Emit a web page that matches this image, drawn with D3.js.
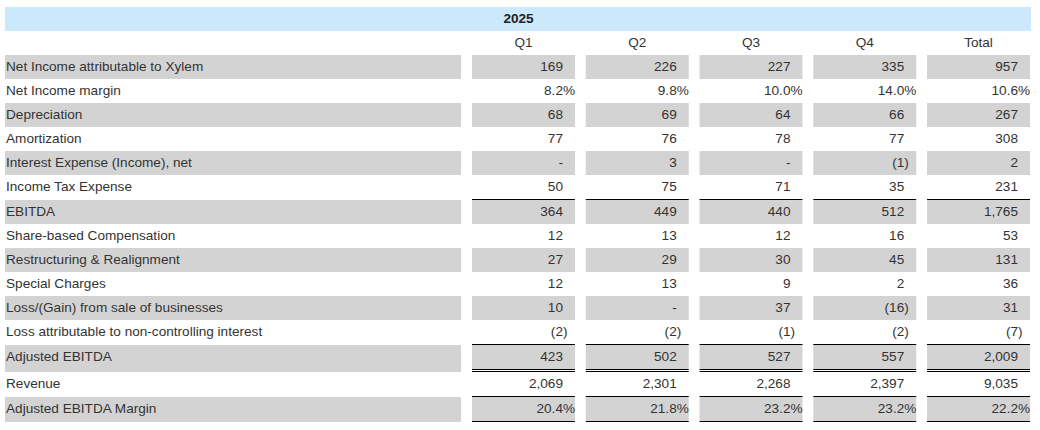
<!DOCTYPE html>
<html>
<head>
<meta charset="utf-8">
<script src="https://cdn.jsdelivr.net/npm/d3@7"></script>
<style>
  body { margin: 0; background: #fff; }
  text { font-family: Arial, "Liberation Sans", sans-serif; font-size: 13.6px; fill: #333; }
</style>
</head>
<body>
<div id="chart"></div>
<script>
// Table data
const year = "2025";
const columns = ["Q1", "Q2", "Q3", "Q4", "Total"];
const rowLabels = [
  "Net Income attributable to Xylem",
  "Net Income margin",
  "Depreciation",
  "Amortization",
  "Interest Expense (Income), net",
  "Income Tax Expense",
  "EBITDA",
  "Share-based Compensation",
  "Restructuring & Realignment",
  "Special Charges",
  "Loss/(Gain) from sale of businesses",
  "Loss attributable to non-controlling interest",
  "Adjusted EBITDA",
  "Revenue",
  "Adjusted EBITDA Margin"
];
const percentRows = ["Net Income margin", "Adjusted EBITDA Margin"];
const q1 = [169, 8.2, 68, 77, null, 50, 364, 12, 27, 12, 10, -2, 423, 2069, 20.4];
const q2 = [226, 9.8, 69, 76, 3, 75, 449, 13, 29, 13, null, -2, 502, 2301, 21.8];
const q3 = [227, 10.0, 64, 78, null, 71, 440, 12, 30, 9, 37, -1, 527, 2268, 23.2];
const q4 = [335, 14.0, 66, 77, -1, 35, 512, 16, 45, 2, -16, -2, 557, 2397, 23.2];
const total = [957, 10.6, 267, 308, 2, 231, 1765, 53, 131, 36, 31, -7, 2009, 9035, 22.2];
const series = [q1, q2, q3, q4, total];

// rules under/over subtotal rows
const topRule = ["EBITDA", "Adjusted EBITDA", "Adjusted EBITDA Margin"];
const bottomRule = { "Adjusted EBITDA": "double", "Adjusted EBITDA Margin": "single" };

const width = 1040, height = 430;
const rowH = 24, padR = 12, base = 16;
const labelX0 = 5, labelX1 = 461;
const shade = "#d3d3d3", headBlue = "#cce8fc";

const svg = d3.select("#chart").append("svg")
  .attr("width", width).attr("height", height);

const x = d3.scaleBand().domain(columns).range([472, 1030]).paddingInner(0.095);

// row layout: each row gets top, content top and height
const rows = [];
let y = 55;
rowLabels.forEach((label, i) => {
  const tb = topRule.includes(label) ? 1 : 0;
  const bb = bottomRule[label] === "double" ? 3 : bottomRule[label] === "single" ? 1 : 0;
  rows.push({ label, i, top: y, ct: y + tb, tb, bb, shaded: i % 2 === 0,
    pct: percentRows.includes(label) });
  y += tb + rowH + bb;
});

// header band
svg.append("rect").attr("x", labelX0).attr("y", 7)
  .attr("width", x.range()[1] - labelX0 + 1).attr("height", rowH)
  .attr("fill", headBlue);
svg.append("text").attr("x", (labelX0 + x.range()[1]) / 2 + 1).attr("y", 7 + base)
  .attr("text-anchor", "middle").style("font-weight", "bold").style("fill", "#222")
  .text(year);

svg.selectAll(".colhead").data(columns).enter().append("text")
  .attr("class", "colhead")
  .attr("x", (d) => x(d) + x.bandwidth() / 2)
  .attr("y", 31 + base)
  .attr("text-anchor", "middle")
  .text((d) => d);

const g = svg.selectAll(".row").data(rows).enter().append("g").attr("class", "row");

// label cells
g.filter((d) => d.shaded).append("rect")
  .attr("x", labelX0).attr("y", (d) => d.ct)
  .attr("width", labelX1 - labelX0).attr("height", (d) => rowH + d.bb)
  .attr("fill", shade);
g.append("text").attr("x", labelX0 + 1).attr("y", (d) => d.ct + base).text((d) => d.label);

// value cells
const cells = g.selectAll(".cell")
  .data((r) => columns.map((c, j) => ({ r, col: c, v: series[j][r.i] })))
  .enter().append("g").attr("class", "cell");

cells.filter((d) => d.r.shaded).append("rect")
  .attr("x", (d) => x(d.col)).attr("y", (d) => d.r.ct)
  .attr("width", x.bandwidth()).attr("height", rowH)
  .attr("fill", shade);

cells.filter((d) => d.r.tb).append("rect")
  .attr("x", (d) => x(d.col)).attr("y", (d) => d.r.top)
  .attr("width", x.bandwidth()).attr("height", 1).attr("fill", "#000");

cells.filter((d) => d.r.bb === 1).append("rect")
  .attr("x", (d) => x(d.col)).attr("y", (d) => d.r.ct + rowH)
  .attr("width", x.bandwidth()).attr("height", 1).attr("fill", "#000");

cells.filter((d) => d.r.bb === 3).each(function (d) {
  [0, 2].forEach((o) => {
    d3.select(this).append("rect")
      .attr("x", x(d.col)).attr("y", d.r.ct + rowH + o)
      .attr("width", x.bandwidth()).attr("height", 1).attr("fill", "#000");
  });
});

const fmtNum = d3.format(",");
const fmtPct = d3.format(".1f");
function parts(d) {
  if (d.v === null) return ["-", ""];
  if (d.r.pct) return [fmtPct(d.v), "%"];
  if (d.v < 0) return ["(" + fmtNum(-d.v), ")"];
  return [fmtNum(d.v), ""];
}

cells.append("text")
  .attr("x", (d) => x(d.col) + x.bandwidth() - padR)
  .attr("y", (d) => d.r.ct + base)
  .attr("text-anchor", "end")
  .text((d) => parts(d)[0]);

cells.append("text")
  .attr("x", (d) => x(d.col) + x.bandwidth() - padR)
  .attr("y", (d) => d.r.ct + base)
  .text((d) => parts(d)[1]);
</script>
</body>
</html>
